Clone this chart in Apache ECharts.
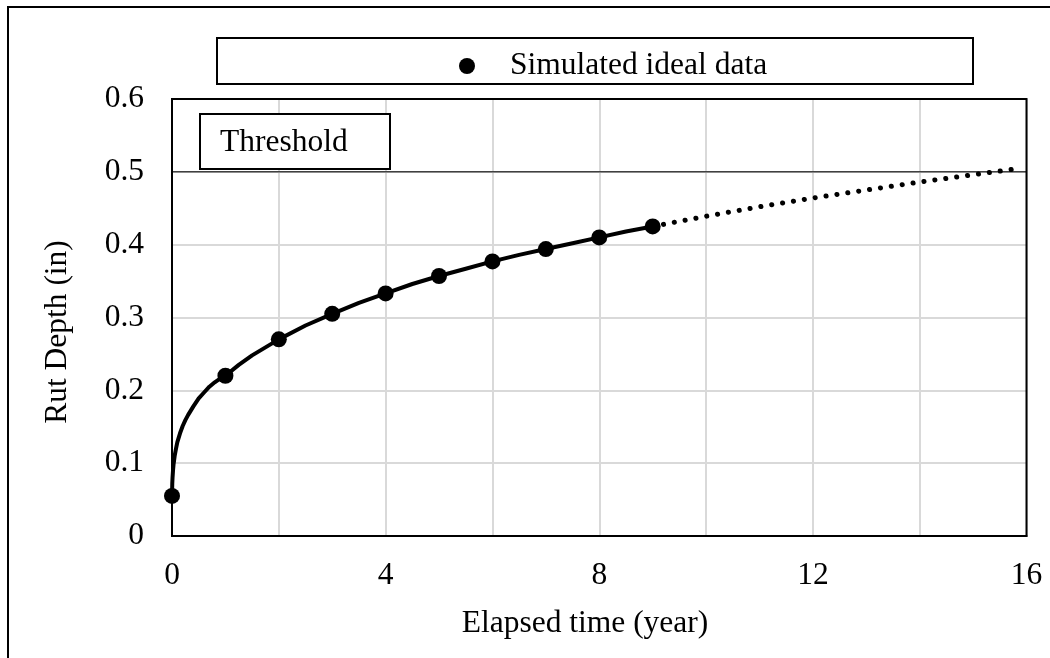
<!DOCTYPE html>
<html>
<head>
<meta charset="utf-8">
<script src="https://cdn.jsdelivr.net/npm/echarts@6/dist/echarts.min.js"></script>
<style>html,body{margin:0;padding:0;background:#fff}#c{width:1050px;height:658px}</style>
</head>
<body>
<div id="c"></div>
<script>
// Data
var pointYears = [0, 1, 2, 3, 4, 5, 6, 7, 8, 9];
var pointDepths = [0.055, 0.22, 0.27, 0.305, 0.333, 0.357, 0.377, 0.394, 0.41, 0.425];
var curveYears = [0, 0.005, 0.01, 0.02, 0.03, 0.05, 0.075, 0.1, 0.15, 0.2, 0.25, 0.3, 0.4, 0.5, 0.6, 0.7, 0.8, 0.9, 1, 1.25, 1.5, 2, 2.5, 3, 3.5, 4, 4.5, 5, 5.5, 6, 6.5, 7, 7.5, 8, 8.5, 9];
var curveDepths = [0.055, 0.072, 0.08, 0.091, 0.099, 0.11, 0.12, 0.129, 0.141, 0.151, 0.159, 0.166, 0.178, 0.189, 0.197, 0.205, 0.211, 0.216, 0.22, 0.235, 0.248, 0.27, 0.289, 0.305, 0.32, 0.333, 0.346, 0.357, 0.367, 0.377, 0.386, 0.394, 0.402, 0.41, 0.418, 0.425];
var trendYears = [9, 10, 11, 12, 13, 14, 15, 15.8];
var trendDepths = [0.425, 0.439, 0.452, 0.464, 0.475, 0.486, 0.496, 0.504];
var thresholdYears = [0, 16];
var thresholdDepths = [0.5, 0.5];
var legendName = 'Simulated ideal data';
var thresholdText = 'Threshold';
var xTitle = 'Elapsed time (year)';
var yTitle = 'Rut Depth (in)';

function zip(a, b) { return a.map(function (v, i) { return [v, b[i]]; }); }

var FONT = 'Liberation Serif';
var FS = 31.5;
var chart = echarts.init(document.getElementById('c'));
chart.setOption({
  animation: false,
  backgroundColor: '#fff',
  textStyle: { fontFamily: FONT },
  grid: { left: 172, top: 99, right: 23.5, bottom: 122, show: false, containLabel: false },
  legend: {
    data: [{ name: legendName, icon: 'circle', itemStyle: { color: '#000', opacity: 1 } }],
    left: 454, top: 45,
    itemWidth: 76, itemHeight: 16,
    textStyle: { fontFamily: FONT, fontSize: FS, color: '#000' },
    selectedMode: false
  },
  xAxis: {
    type: 'value', min: 0, max: 16, interval: 2,
    axisLine: { show: true, lineStyle: { color: '#000', width: 2 } },
    axisTick: { show: false },
    splitLine: { show: true, lineStyle: { color: '#d9d9d9', width: 2 } },
    axisLabel: { fontFamily: FONT, fontSize: FS, color: '#000', margin: 24,
      formatter: function (v) { return v % 4 === 0 ? String(v) : ''; } }
  },
  yAxis: {
    type: 'value', min: 0, max: 0.6, interval: 0.1,
    axisLine: { show: true, lineStyle: { color: '#000', width: 2 } },
    axisTick: { show: false },
    splitLine: { show: true, lineStyle: { color: '#d9d9d9', width: 2 } },
    axisLabel: { fontFamily: FONT, fontSize: FS, color: '#000', margin: 28,
      formatter: function (v) { return v === 0 ? '0' : v.toFixed(1); } }
  },
  graphic: [
    { type: 'rect', shape: { x: 8, y: 7, width: 1100, height: 700 }, style: { fill: 'none', stroke: '#000', lineWidth: 2 }, silent: true },
    { type: 'rect', shape: { x: 172, y: 99, width: 854.5, height: 437 }, style: { fill: 'none', stroke: '#000', lineWidth: 2 }, silent: true, z: 50 },
    { type: 'rect', shape: { x: 217, y: 38, width: 756, height: 46 }, style: { fill: 'none', stroke: '#000', lineWidth: 2 }, silent: true },
    { type: 'rect', shape: { x: 200, y: 114, width: 190, height: 55 }, style: { fill: '#fff', stroke: '#000', lineWidth: 2 }, silent: true, z: 100 },
    { type: 'text', x: 220, y: 143, z: 101, style: { text: thresholdText, fontFamily: FONT, fontSize: FS, fill: '#000', align: 'left', verticalAlign: 'middle' } },
    { type: 'text', x: 585, y: 624, style: { text: xTitle, fontFamily: FONT, fontSize: FS, fill: '#000', align: 'center', verticalAlign: 'middle' } },
    { type: 'text', x: 58, y: 332, rotation: Math.PI / 2, style: { x: 0, y: 0, text: yTitle, fontFamily: FONT, fontSize: FS, fill: '#000', align: 'center', verticalAlign: 'middle' } }
  ],
  series: [
    { name: 'Threshold', type: 'line', data: zip(thresholdYears, thresholdDepths), showSymbol: false, lineStyle: { color: '#404040', width: 1.5 }, z: 2, silent: true },
    { name: 'Trend', type: 'line', data: zip(trendYears, trendDepths), showSymbol: false,
      lineStyle: { color: '#000', width: 5, type: [0.1, 10.9], cap: 'round' }, z: 3, silent: true },
    { name: 'Curve', type: 'line', data: zip(curveYears, curveDepths), showSymbol: false,
      lineStyle: { color: '#000', width: 4, join: 'round', cap: 'round' }, z: 4, silent: true },
    { name: legendName, type: 'scatter', data: zip(pointYears, pointDepths), symbol: 'circle', symbolSize: 16,
      itemStyle: { color: '#000', opacity: 1 }, z: 5 }
  ]
});
</script>
</body>
</html>
